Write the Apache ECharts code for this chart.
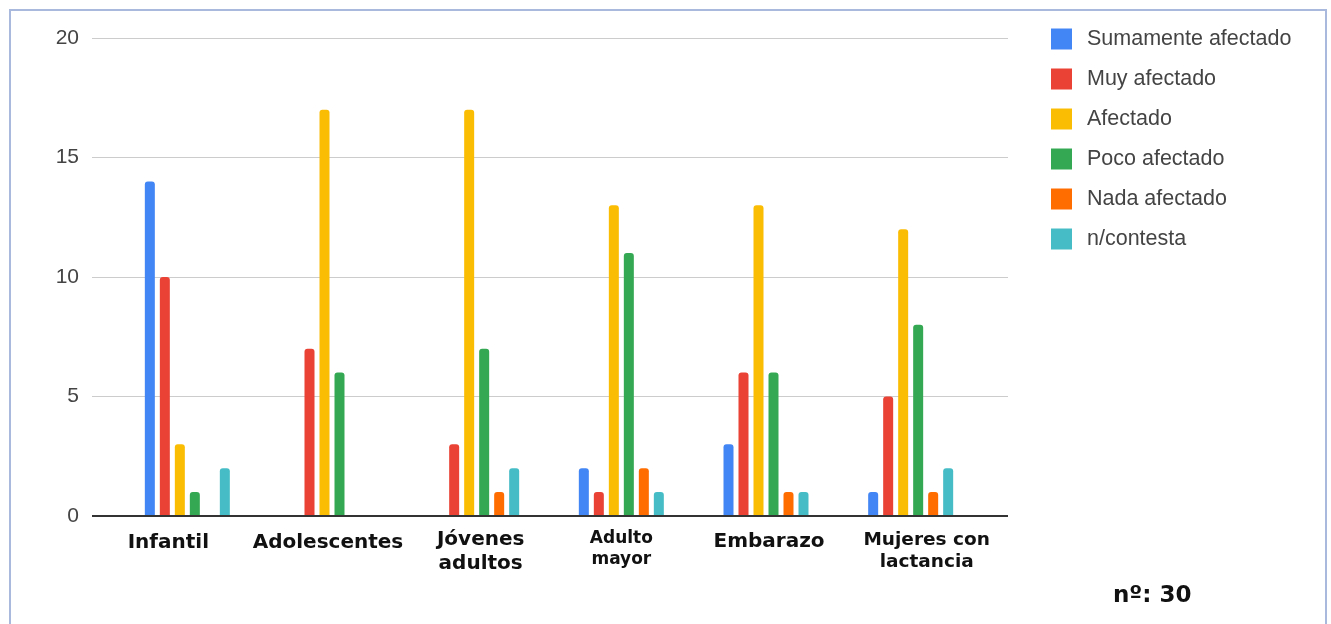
<!DOCTYPE html>
<html>
<head>
<meta charset="utf-8">
<script src="https://cdn.jsdelivr.net/npm/echarts@6/dist/echarts.min.js"></script>
<style>
html,body{margin:0;padding:0;background:#ffffff;}
#chart{width:1331px;height:624px;}
</style>
</head>
<body>
<div id="chart"></div>
<script>
// ---- data ----
const categories = ['Infantil', 'Adolescentes', 'Jóvenes\nadultos', 'Adulto\nmayor', 'Embarazo', 'Mujeres con\nlactancia'];
const seriesNames = ['Sumamente afectado', 'Muy afectado', 'Afectado', 'Poco afectado', 'Nada afectado', 'n/contesta'];
const sumamenteAfectado = [14, 0, 0, 2, 3, 1];
const muyAfectado       = [10, 7, 3, 1, 6, 5];
const afectado          = [3, 17, 17, 13, 13, 12];
const pocoAfectado      = [1, 6, 7, 11, 6, 8];
const nadaAfectado      = [0, 0, 1, 2, 1, 1];
const noContesta        = [2, 0, 2, 1, 1, 2];
const yTicks = [0, 5, 10, 15, 20];
const noteText = 'nº: 30';

// ---- layout / style ----
const colors = ['#4285F4', '#EA4335', '#FBBC04', '#34A853', '#FF6D01', '#46BDC6'];
const labelShift = [-19, -4, 4, 0, 3, 16];
const labelFont = [20, 20, 20, 17, 20, 18.5];
const labelLine = [24, 24, 24, 21, 24, 23];
const labelTopPad = [5, 5, 0, 0, 4, 2];
const seriesValues = [sumamenteAfectado, muyAfectado, afectado, pocoAfectado, nadaAfectado, noContesta];

const rich = {};
categories.forEach((c, i) => {
  const s = labelShift[i];
  const base = {
    fontFamily: 'DejaVu Sans',
    fontWeight: 'bold',
    fontSize: labelFont[i],
    lineHeight: labelLine[i],
    color: '#111',
    align: 'center'
  };
  const l = s < 0 ? 0 : 2 * s, r = s < 0 ? -2 * s : 0;
  rich['c' + i + 'a'] = Object.assign({}, base, {padding: [labelTopPad[i], r, 0, l]});
  rich['c' + i + 'b'] = Object.assign({}, base, {padding: [0, r, 0, l]});
});

const chart = echarts.init(document.getElementById('chart'), null, {renderer: 'canvas'});
chart.setOption({
  animation: false,
  backgroundColor: '#ffffff',
  color: colors,
  textStyle: {fontFamily: 'Liberation Sans, Arial, sans-serif'},
  graphic: [
    {type: 'rect', shape: {x: 10, y: 10, width: 1316, height: 630}, style: {fill: 'none', stroke: '#a9b9de', lineWidth: 2}, z: 100},
    {type: 'text', x: 1113, y: 596, style: {text: noteText, font: 'bold 23px "DejaVu Sans"', fill: '#111', verticalAlign: 'middle'}}
  ],
  legend: {
    orient: 'vertical',
    left: 1046,
    top: 23,
    icon: 'rect',
    itemWidth: 21,
    itemHeight: 21,
    itemGap: 18,
    data: seriesNames,
    textStyle: {fontSize: 21.5, lineHeight: 21, color: '#444', fontFamily: 'Liberation Sans, Arial, sans-serif', padding: [0, 0, 0, 10]}
  },
  grid: [
    {left: 92, right: 323, top: 38, bottom: 108},
    {left: 115, right: 348, top: 38, bottom: 108}
  ],
  xAxis: [
    {gridIndex: 0, type: 'category', data: categories, show: false},
    {
      gridIndex: 1, type: 'category', data: categories,
      axisLine: {show: false}, axisTick: {show: false},
      axisLabel: {
        interval: 0, margin: 12,
        formatter: (v, i) => v.split('\n').map((l, j) => '{c' + i + (j === 0 ? 'a' : 'b') + '|' + l + '}').join('\n'),
        rich: rich
      }
    }
  ],
  yAxis: [
    {
      gridIndex: 0, type: 'value', min: 0, max: 20, interval: 5,
      axisLine: {show: false}, axisTick: {show: false},
      axisLabel: {fontSize: 21, color: '#444', margin: 13, formatter: v => yTicks.includes(v) ? String(v) : ''},
      splitLine: {lineStyle: {color: '#cccccc', width: 1}}
    },
    {
      gridIndex: 1, type: 'value', min: 0, max: 20, interval: 5, show: false
    }
  ],
  series: seriesNames.map((n, k) => ({
    name: n,
    type: 'bar',
    xAxisIndex: 1,
    yAxisIndex: 1,
    data: seriesValues[k],
    barWidth: 10,
    barGap: '50%',
    itemStyle: {borderRadius: [3, 3, 0, 0]}
  })).concat([{
    type: 'line', xAxisIndex: 0, yAxisIndex: 0, data: [],
    markLine: {
      silent: true, symbol: 'none', label: {show: false},
      lineStyle: {color: '#333', width: 2, type: 'solid'},
      data: [{yAxis: 0}]
    }
  }])
});
</script>
</body>
</html>
